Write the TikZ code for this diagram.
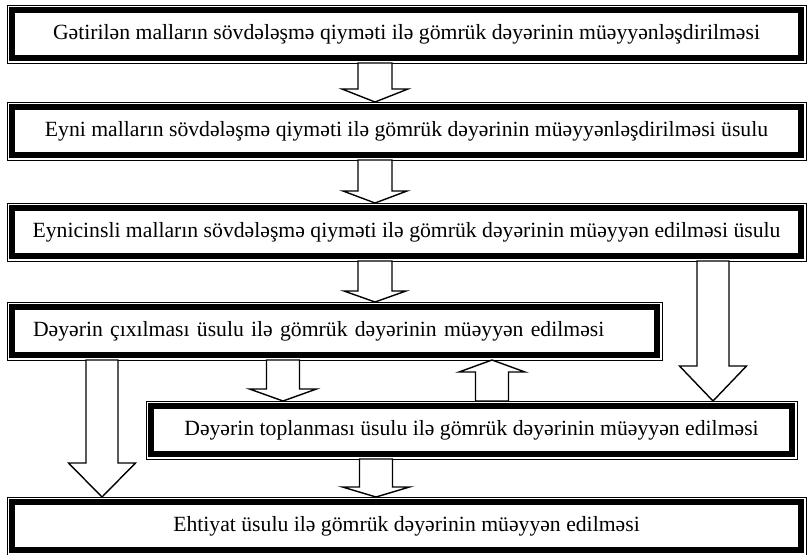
\documentclass[tikz,border=0pt]{standalone}
\usepackage{fontspec}
\setmainfont{Liberation Serif}
\usetikzlibrary{calc}
\newcommand\ArrDown[6]{%
 \draw[barrow] let \p1=(#1.south), \p2=(#2.north) in
 (#3pt-#4pt,\y1-5pt) -- (#3pt-#4pt,\y2+5pt+#6pt) -- (#3pt-#5pt,\y2+5pt+#6pt) -- (#3pt,\y2+5pt)
 -- (#3pt+#5pt,\y2+5pt+#6pt) -- (#3pt+#4pt,\y2+5pt+#6pt) -- (#3pt+#4pt,\y1-5pt) -- cycle;}
\newcommand\ArrUp[6]{%
 \draw[barrow] let \p1=(#1.north), \p2=(#2.south) in
 (#3pt-#4pt,\y1+5pt) -- (#3pt-#4pt,\y2-5pt-#6pt) -- (#3pt-#5pt,\y2-5pt-#6pt) -- (#3pt,\y2-5pt)
 -- (#3pt+#5pt,\y2-5pt-#6pt) -- (#3pt+#4pt,\y2-5pt-#6pt) -- (#3pt+#4pt,\y1+5pt) -- cycle;}
\newcommand\Outline[1]{%
 \draw[thinline] ([shift={(-5,-5)}]#1.north west) rectangle ([shift={(5,5)}]#1.south east);}
\begin{document}
\begin{tikzpicture}[x=1pt,y=-1pt,
  box/.style={draw, line width=6pt, fill=white, minimum width=#1, minimum height=48pt,
    inner sep=0pt, outer sep=0pt, font=\fontsize{21.7}{24}\selectfont},
  thinline/.style={draw, line width=1pt},
  barrow/.style={draw, line width=1.4pt, fill=white, line join=miter}]
\useasboundingbox[fill=white] (0,0) rectangle (808,554);
\node[box=789pt] (b1) at (406.5,34) {Gətirilən malların sövdələşmə qiyməti ilə gömrük dəyərinin müəyyənləşdirilməsi};
\node[box=789pt] (b2) at (406.5,131) {Eyni malların sövdələşmə qiyməti ilə gömrük dəyərinin müəyyənləşdirilməsi üsulu};
\node[box=789pt] (b3) at (406.5,232) {Eynicinsli malların sövdələşmə qiyməti ilə gömrük dəyərinin müəyyən edilməsi üsulu};
\node[box=645pt, text width=603pt, align=left] (b4) at (334.5,331) {Dəyərin çıxılması üsulu ilə gömrük dəyərinin müəyyən edilməsi};
\node[box=641pt] (b5) at (471.5,430) {Dəyərin toplanması üsulu ilə gömrük dəyərinin müəyyən edilməsi};
\node[box=789pt] (b6) at (406.5,526) {Ehtiyat üsulu ilə gömrük dəyərinin müəyyən edilməsi};
\Outline{b1}\Outline{b2}\Outline{b3}\Outline{b4}\Outline{b5}\Outline{b6}
\ArrDown{b1}{b2}{375}{17}{33}{13}
\ArrDown{b2}{b3}{375}{17}{32}{12}
\ArrDown{b3}{b4}{375}{17}{31}{11}
\ArrDown{b3}{b5}{713}{16}{33.5}{35}
\ArrDown{b4}{b6}{102}{16}{33.5}{34}
\ArrDown{b4}{b5}{283}{16.5}{33.5}{12}
\ArrUp{b5}{b4}{492}{16.5}{33}{12}
\ArrDown{b5}{b6}{376}{16.5}{33.5}{10}
\end{tikzpicture}
\end{document}
